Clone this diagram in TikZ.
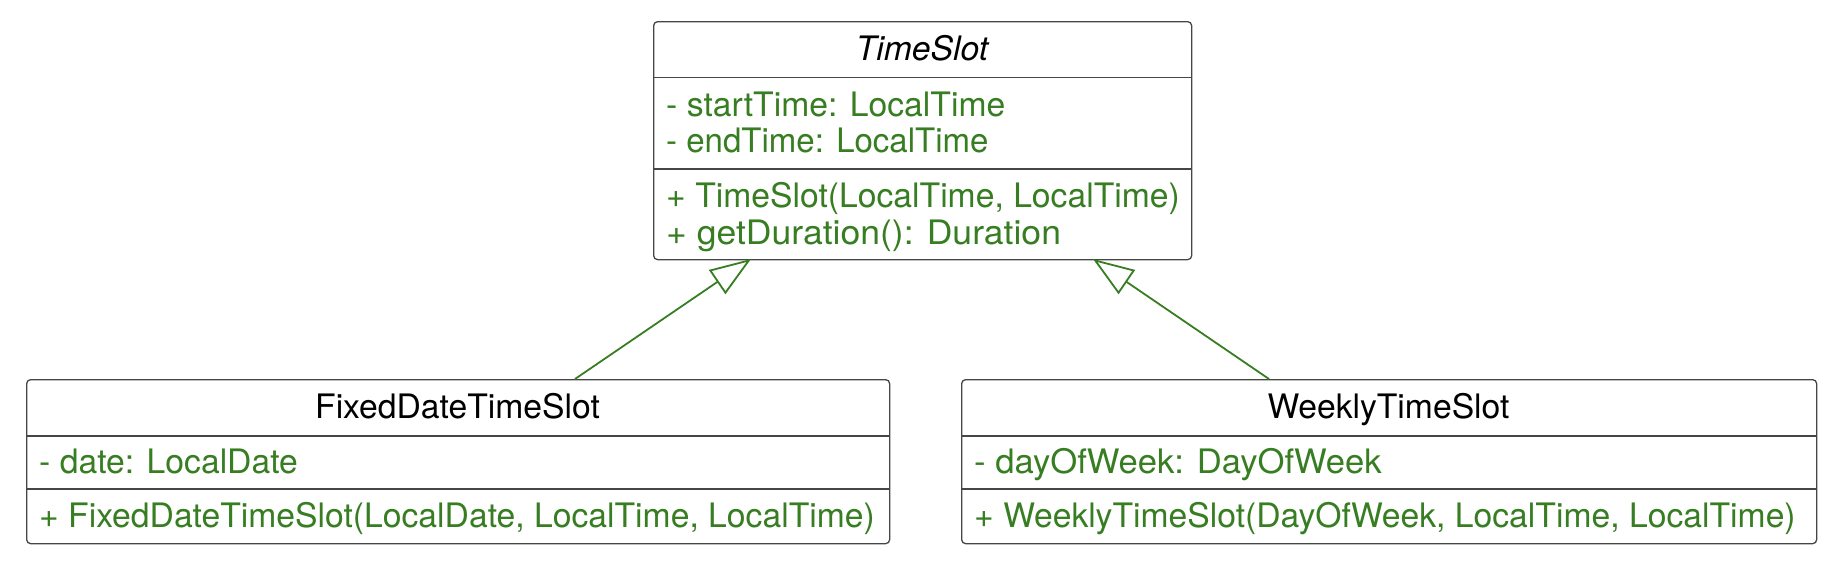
\documentclass[tikz,border=0pt]{standalone}
\usepackage{fontspec}
\setmainfont{TeX Gyre Heros}
\usetikzlibrary{arrows.meta}
\definecolor{umlgreen}{RGB}{55,125,34}
\definecolor{boxline}{RGB}{70,70,70}
\tikzset{
  classbox/.style={draw=boxline, line width=1.3pt, rounded corners=4pt, fill=white, inner sep=0pt, anchor=north west},
  septitle/.style={draw=boxline, line width=1.3pt},
  ctitle/.style={anchor=base, inner sep=0pt, text=black, font=\fontsize{33.7}{40}\selectfont},
  member/.style={anchor=base west, inner sep=0pt, text=umlgreen, font=\fontsize{33.7}{40}\selectfont},
  inherit/.style={draw=umlgreen, line width=1.8pt, -{Triangle[open, length=41pt, width=29pt, fill=white]}}
}
\begin{document}
\begin{tikzpicture}[x=1pt,y=-1pt]
\useasboundingbox (0,0) rectangle (1842,560);
% TimeSlot
\node[classbox, minimum width=538pt, minimum height=238pt] (ts) at (653,21) {};
\node[ctitle] (tsT) at (922,60.7) {\itshape TimeSlot};
\draw[septitle] (ts.west |- 0,77.7) -- (ts.east |- 0,77.7);
\node[member] (tsA1) at (666,116) {- startTime: LocalTime};
\node[member] (tsA2) at (666,152.5) {\scalebox{0.98}[1]{- endTime: LocalTime}};
\draw[septitle] (ts.west |- 0,169) -- (ts.east |- 0,169);
\node[member] (tsM1) at (666,207) {+ TimeSlot(LocalTime, LocalTime)};
\node[member] (tsM2) at (666,244) {\scalebox{1.055}[1]{+ getDuration(): Duration}};
% FixedDateTimeSlot
\node[classbox, minimum width=863pt, minimum height=164pt] (fd) at (26,379) {};
\node[ctitle] (fdT) at (457.5,418.7) {FixedDateTimeSlot};
\draw[septitle] (fd.west |- 0,436) -- (fd.east |- 0,436);
\node[member] (fdA1) at (39,473) {- date: LocalDate};
\draw[septitle] (fd.west |- 0,489) -- (fd.east |- 0,489);
\node[member] (fdM1) at (39,527) {+ FixedDateTimeSlot(LocalDate, LocalTime, LocalTime)};
% WeeklyTimeSlot
\node[classbox, minimum width=855pt, minimum height=164pt] (wk) at (961,379) {};
\node[ctitle] (wkT) at (1388.5,418.7) {WeeklyTimeSlot};
\draw[septitle] (wk.west |- 0,436) -- (wk.east |- 0,436);
\node[member] (wkA1) at (974,473) {\scalebox{1.028}[1]{- dayOfWeek: DayOfWeek}};
\draw[septitle] (wk.west |- 0,489) -- (wk.east |- 0,489);
\node[member] (wkM1) at (974,527) {+ WeeklyTimeSlot(DayOfWeek, LocalTime, LocalTime)};
% connectors
\coordinate (fdTop) at (575,379);
\coordinate (tsBotL) at (751,259);
\coordinate (wkTop) at (1269,379);
\coordinate (tsBotR) at (1093,259);
\draw[inherit] (fdTop) -- (tsBotL);
\draw[inherit] (wkTop) -- (tsBotR);
\end{tikzpicture}
\end{document}
